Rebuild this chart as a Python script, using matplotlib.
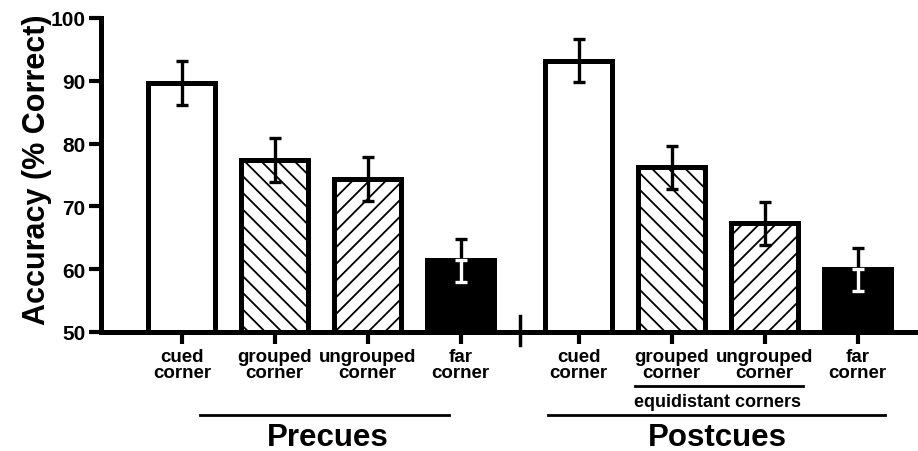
import matplotlib
matplotlib.use("Agg")
import matplotlib.pyplot as plt
import matplotlib.transforms as mtransforms
import numpy as np

plt.rcParams["font.family"] = ["Liberation Sans", "DejaVu Sans"]
plt.rcParams["font.weight"] = "bold"
plt.rcParams["hatch.linewidth"] = 1.3

# values
labels = ["cued\ncorner", "grouped\ncorner", "ungrouped\ncorner", "far\ncorner"] * 2
precues = [89.7, 77.4, 74.4, 61.4]
precues_err = [3.5, 3.5, 3.5, 3.4]
postcues = [93.2, 76.2, 67.3, 60.0]
postcues_err = [3.4, 3.4, 3.4, 3.4]
fills = ["white", "white", "white", "black"]
hatches = ["", "\\\\", "//", ""]

means = precues + postcues
errs = precues_err + postcues_err
x = np.concatenate([np.arange(4), np.arange(4) + 4.27])

fig = plt.figure(figsize=(9.18, 4.52), dpi=100)
ax = fig.add_axes([101 / 918, 119 / 452, 817 / 918, 314 / 452])

for i in range(8):
    fc = fills[i % 4]
    ax.bar(x[i], means[i] - 50, bottom=50, width=0.72, color=fc,
           edgecolor="black", linewidth=3.6, hatch=hatches[i % 4], zorder=2)
    low_col = "white" if fc == "black" else "black"
    ax.errorbar(x[i], means[i], yerr=[[0], [errs[i]]], fmt="none",
                ecolor="black", elinewidth=2.4, capsize=4, capthick=2.4, zorder=3)
    ax.errorbar(x[i], means[i], yerr=[[errs[i]], [0]], fmt="none",
                ecolor=low_col, elinewidth=2.4, capsize=4, capthick=2.4, zorder=3)

ax.set_xlim(-0.87, 7.92)
ax.set_ylim(50, 100)
ax.set_yticks([50, 60, 70, 80, 90, 100])
ax.set_xticks(x)
ax.set_xticklabels(labels, fontsize=13.5, fontweight="bold", linespacing=0.95)
ax.tick_params(axis="x", length=8.5, width=3, pad=3)
ax.tick_params(axis="y", length=9, width=3, pad=2, labelsize=15)
for t in ax.get_yticklabels():
    t.set_fontweight("bold")

for s in ["top", "right"]:
    ax.spines[s].set_visible(False)
ax.spines["left"].set_linewidth(3.6)
ax.spines["bottom"].set_linewidth(3.6)

trans = mtransforms.blended_transform_factory(ax.transData, ax.transAxes)

# separator between groups
sep = (x[3] + x[4]) / 2
ax.plot([sep, sep], [-0.04, 0.05], color="black", lw=2.5, transform=trans, clip_on=False)

# group lines and labels
ax.plot([0.2, 2.87], [-0.265, -0.265], color="black", lw=2, transform=trans, clip_on=False)
ax.text(1.57, -0.335, "Precues", transform=trans, ha="center", va="center",
        fontsize=22.5, fontweight="bold")
ax.plot([3.94, 7.57], [-0.265, -0.265], color="black", lw=2, transform=trans, clip_on=False)
ax.text(5.76, -0.335, "Postcues", transform=trans, ha="center", va="center",
        fontsize=22.5, fontweight="bold")
ax.plot([4.88, 6.68], [-0.173, -0.173], color="black", lw=2, transform=trans, clip_on=False)
ax.text(5.76, -0.222, "equidistant corners", transform=trans, ha="center", va="center",
        fontsize=13, fontweight="bold")

fig.text(37 / 918, 1 - 170 / 452, "Accuracy (% Correct)", rotation=90,
         ha="center", va="center", fontsize=22, fontweight="bold")

fig.savefig("out.png", dpi=100)
